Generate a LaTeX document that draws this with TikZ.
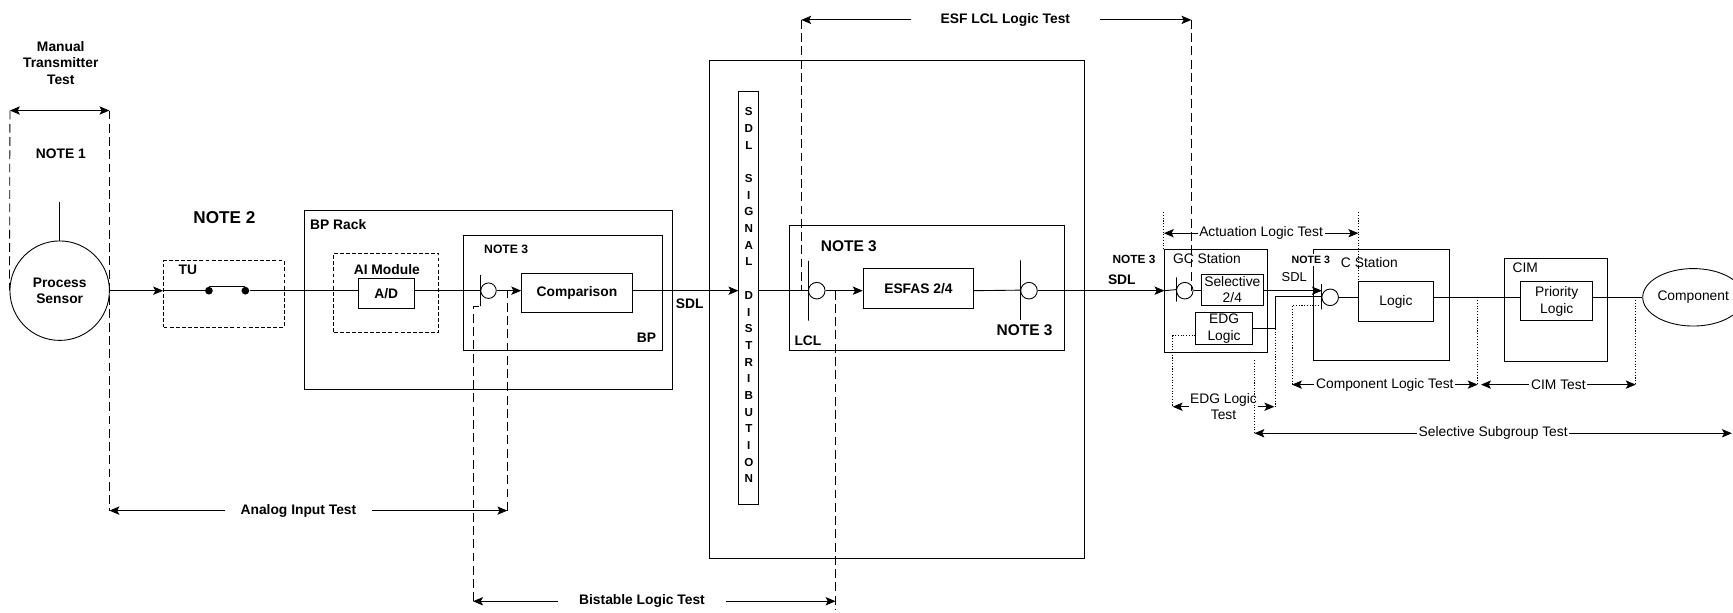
\documentclass[tikz,border=0pt]{standalone}
\usepackage{fontspec}
\setmainfont{Liberation Sans}
\usetikzlibrary{arrows.meta,shapes.geometric}

\tikzset{
  box/.style={draw, inner sep=0pt},
  dbox/.style={draw, dash pattern=on 3.5pt off 2pt, line width=0.8pt, inner sep=0pt},
  ring/.style={circle, draw, minimum size=#1, inner sep=0pt},
  ring/.default=15pt,
  latch/.style={draw, minimum width=0pt, minimum height=#1, inner sep=0pt},
  latch/.default=54pt,
  boldlbl/.style={font=\bfseries\fontsize{12.5}{15}\selectfont},
  txtlbl/.style={font=\fontsize{12.5}{15}\selectfont},
  guideline/.style={dash pattern=on 8pt off 4pt, line width=0.75pt},
  dotline/.style={dash pattern=on 1pt off 1.5pt, line width=0.9pt},
  textgap/.style={fill=white, inner xsep=#1, inner ysep=1pt},
  textgap/.default=1.5pt,
}

\begin{document}
\begin{tikzpicture}[x=1pt, y=-1pt, line width=0.8pt, >={Stealth[length=9pt,width=7.5pt,inset=2pt]}]
  \useasboundingbox (0,0) rectangle (1568,554);

  % transmitter
  \node[boldlbl, align=center] (mtt) at (55,57) {Manual\\Transmitter\\Test};
  \node[boldlbl] (note1) at (55,139) {NOTE 1};
  \node[circle, draw, minimum size=90pt, inner sep=0pt, boldlbl, align=center] (sensor) at (54,263) {Process\\Sensor};
  \coordinate (stem) at (54,183);
  \draw (stem) -- (sensor.north);

  % TU
  \node[font=\bfseries\fontsize{15.5}{18}\selectfont] (note2) at (203,197) {NOTE 2};
  \node[dbox, minimum width=109pt, minimum height=60pt] (tu) at (202.5,266) {};
  \node[boldlbl] (tulbl) at (170,244) {TU};
  \node[circle, fill, minimum size=7pt, inner sep=0pt] (sw1) at (189,263) {};
  \node[circle, fill, minimum size=7pt, inner sep=0pt] (sw2) at (222,263) {};

  % BP rack
  \node[box, minimum width=333pt, minimum height=162pt] (rack) at (441.5,271) {};
  \node[boldlbl] (racklbl) at (306,203) {BP Rack};
  \node[dbox, minimum width=95pt, minimum height=72pt] (aim) at (349.5,265) {};
  \node[boldlbl] (aimlbl) at (350,244) {AI Module};
  \node[box, minimum width=51pt, minimum height=27pt, boldlbl] (ad) at (349.5,265.5) {A/D};
  \node[box, minimum width=180pt, minimum height=104pt] (bp) at (509,265) {};
  \node[font=\bfseries\fontsize{11}{13}\selectfont] (bpnote) at (458,226) {NOTE 3};
  \node[boldlbl] (bplbl) at (585,306) {BP};
  \node[latch=28pt] (t1) at (435,263) {};
  \node[ring=14pt] (c1) at (442,263) {};
  \node[box, minimum width=100pt, minimum height=36pt, boldlbl] (cmp) at (522,265) {Comparison};
  \node[boldlbl] (sdl1) at (624,275) {SDL};

  % SDL distribution cabinet
  \node[box, minimum width=339pt, minimum height=450pt] (cab) at (811.5,280) {};
  \node[box, minimum width=18pt, minimum height=373pt] (dist) at (677.5,269.5) {};
  \node[font=\bfseries\fontsize{10.5}{15.1}\selectfont, align=center, inner sep=0pt, anchor=north] (distlbl) at (677.5,97)
    {S\\D\\L\\[15.1pt]S\\I\\G\\N\\A\\L\\[15.1pt]D\\I\\S\\T\\R\\I\\B\\U\\T\\I\\O\\N};
  \node[box, minimum width=249pt, minimum height=113pt] (esf) at (838.5,260.5) {};
  \node[font=\bfseries\fontsize{14}{16}\selectfont] (esfnote) at (768,223) {NOTE 3};
  \node[boldlbl] (lcl) at (731,308) {LCL};
  \node[font=\bfseries\fontsize{14}{16}\selectfont] (esfnote2) at (927,299) {NOTE 3};
  \node[latch=54pt] (t2) at (731.5,263) {};
  \node[ring=15pt] (c2) at (739,263) {};
  \node[box, minimum width=100pt, minimum height=36pt, boldlbl] (esfas) at (831,261) {ESFAS 2/4};
  \node[latch=54pt] (t3) at (923.5,262.5) {};
  \node[ring=15pt] (c3) at (931,263) {};

  % GC station
  \node[font=\bfseries\fontsize{10.7}{13}\selectfont] (gcnote) at (1026,235) {NOTE 3};
  \node[boldlbl] (sdl2) at (1015,253) {SDL};
  \node[box, minimum width=93pt, minimum height=93pt] (gc) at (1100.5,272.5) {};
  \node[txtlbl] (gclbl) at (1092,234) {GC Station};
  \node[latch=22pt] (t4) at (1064.5,262) {};
  \node[ring=15pt] (c4) at (1072,263) {};
  \node[box, minimum width=56pt, minimum height=28pt, txtlbl, align=center] (sel) at (1115,262) {Selective\\2/4};
  \node[box, minimum width=51pt, minimum height=29pt, txtlbl, align=center] (edg) at (1107.5,297.5) {EDG\\Logic};

  % C station
  \node[box, minimum width=123pt, minimum height=100pt] (cst) at (1249.5,276) {};
  \node[txtlbl] (cstlbl) at (1239,238) {C Station};
  \node[font=\bfseries\fontsize{9.6}{11}\selectfont, fill=white, inner sep=2pt] (cnote) at (1186,235) {NOTE 3};
  \node[font=\fontsize{11.7}{13}\selectfont] (sdl3) at (1171,251) {SDL};
  \node[latch=23pt] (t5) at (1196,268.5) {};
  \node[ring=15pt] (c5) at (1203.5,269) {};
  \node[box, minimum width=68pt, minimum height=36pt, txtlbl] (logic) at (1263,273) {Logic};

  % CIM and component
  \node[box, minimum width=93pt, minimum height=93pt] (cim) at (1407.5,280.5) {};
  \node[txtlbl] (cimlbl) at (1380,242) {CIM};
  \node[box, minimum width=65pt, minimum height=35pt, txtlbl, align=center] (prio) at (1408.5,272.5) {Priority\\Logic};
  \node[ellipse, draw, minimum width=84pt, minimum height=52pt, inner sep=0pt, txtlbl] (comp) at (1532,269) {Component};

  % signal path
  \draw[->] (sensor.east) -- (sensor.east -| tu.west);
  \draw (tu.west |- sw1) -- (sw1) (sw1.north) -- (sw2.north) (sw2) -- (sw2 -| ad.west);
  \draw (ad.east |- t1) -- (t1);
  \draw[->] (c1) -- (c1 -| cmp.west);
  \draw[->] (cmp.east |- c1) -- (c1 -| dist.west);
  \draw (dist.east |- c1) -- (t2);
  \draw[->] (c2) -- (c2 -| esfas.west);
  \draw (esfas.east |- c2) -- (t3);
  \draw[->] (c3) -- (c3 -| gc.west);
  \draw (gc.west |- c4) -- (t4);
  \draw (c4) -- (c4 -| sel.west);
  \draw[->] (sel.east |- c4) -- (c4 -| t5);
  \coordinate (edgturn) at (1154,297.5);
  \draw (edg.east) -- (edgturn) |- (t5);
  \draw (c5) -- (c5 -| logic.west);
  \draw (logic.east |- c5) -- (c5 -| prio.west);
  \draw (prio.east |- c5) -- (comp);

  % test spans, left
  \coordinate (mttL) at (9,100);
  \coordinate (mttR) at (99,100);
  \coordinate (aitL) at (99,462);
  \coordinate (aitR) at (459,462);
  \coordinate (bltL) at (428,544);
  \coordinate (bltR) at (756,544);
  \coordinate (bltEnd) at (756,552);
  \coordinate (esfL) at (725,18);
  \coordinate (esfR) at (1078,18);
  \draw[<->] (mttL) -- (mttR);
  \draw[guideline] (mttL) -- (sensor.west);
  \draw[guideline] (mttR) -- (aitL);
  \draw[<->] (aitL) -- node[pos=0.475, boldlbl, textgap=14.5pt] (aitlbl) {Analog Input Test} (aitR);
  \draw[guideline] (aitR) -- (aitR |- c1);
  \draw[<->] (bltL) -- node[pos=0.466, boldlbl, textgap=19pt] (bltlbl) {Bistable Logic Test} (bltR);
  \draw[guideline] (bltL) |- (t1.south);
  \draw[guideline] (bltEnd |- c2) -- (bltEnd);
  \draw[<->] (esfL) -- node[pos=0.523, boldlbl, textgap=27pt] (esflbl) {ESF LCL Logic Test} (esfR);
  \draw[guideline] (esfL) -- (esfL |- c2);
  \draw[guideline] (esfR) -- (esfR |- c4);

  % test spans, right
  \coordinate (actL) at (1053,211);
  \coordinate (actR) at (1229,211);
  \coordinate (actLtop) at (1053,192);
  \coordinate (actRtop) at (1229,192);
  \draw[<->] (actL) -- node[txtlbl, textgap] (actlbl) {Actuation Logic Test} (actR);
  \draw[dotline] (actLtop) -- (actLtop |- gc.north);
  \draw[dotline] (actRtop) -- (actRtop |- logic.north);

  \coordinate (edgL) at (1061,368);
  \coordinate (edgR) at (1153,368);
  \draw[<->] (edgL) -- node[txtlbl, align=center, fill=white, inner sep=1pt] (edglbl) {EDG Logic\\Test} (edgR);
  \draw[dotline] ([yshift=-6.5pt]edg.west) -| (edgL);
  \draw[dotline] (edgturn) -- (edgturn |- edgR);

  \coordinate (cltL) at (1169,348);
  \coordinate (cltR) at (1337,348);
  \coordinate (cimL) at (1340,348);
  \coordinate (cimR) at (1480,348);
  \draw[<->] (cltL) -- node[txtlbl, textgap] (cltlbl) {Component Logic Test} (cltR);
  \draw[<->] (cimL) -- node[txtlbl, textgap] (cimtlbl) {CIM Test} (cimR);
  \draw[dotline] ([yshift=4pt]t5.south) -| (cltL);
  \draw[dotline] (cltR |- c5) -- (cltR);
  \draw[dotline] (cimR |- c5) -- (cimR);

  \coordinate (ssL) at (1135,392);
  \coordinate (ssR) at (1567,392);
  \coordinate (ssTop) at (1135,326);
  \draw[<->] (ssL) -- node[txtlbl, textgap] (sslbl) {Selective Subgroup Test} (ssR);
  \draw[dotline] (ssTop) -- (ssL);
\end{tikzpicture}
\end{document}
